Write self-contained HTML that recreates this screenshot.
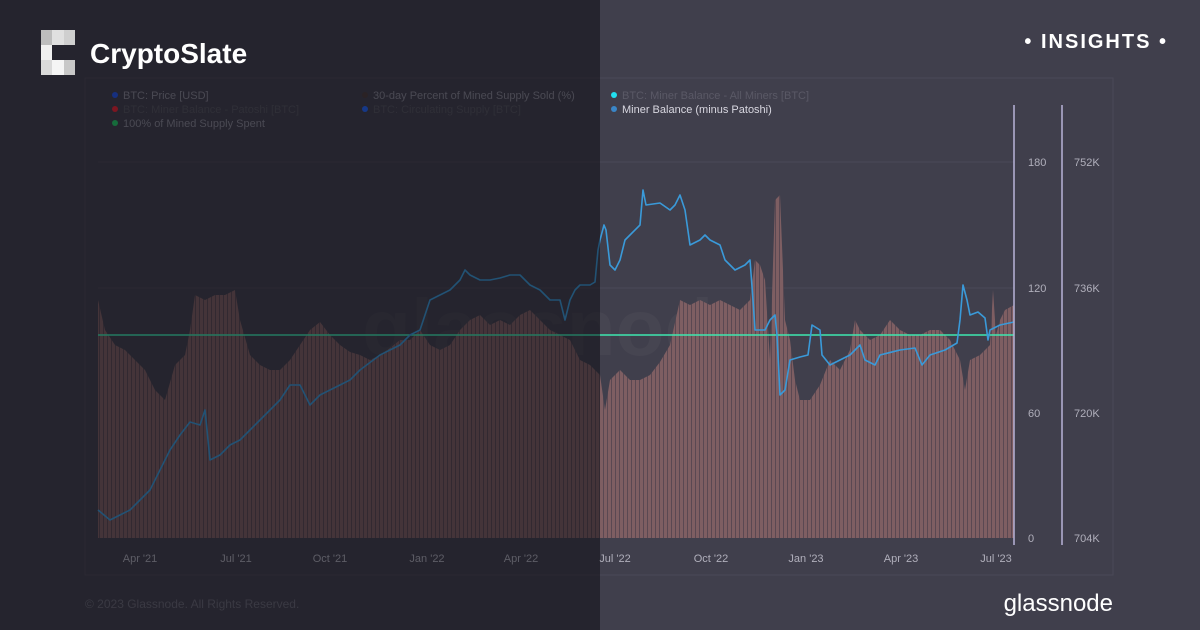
<!DOCTYPE html>
<html><head><meta charset="utf-8"><style>
html,body{margin:0;padding:0;background:#403f4c;width:1200px;height:630px;overflow:hidden;font-family:"Liberation Sans",sans-serif}
</style></head><body>
<svg width="1200" height="630" viewBox="0 0 1200 630" xmlns="http://www.w3.org/2000/svg" style="position:absolute;left:0;top:0">
<defs>
<pattern id="bars" width="4" height="10" patternUnits="userSpaceOnUse">
<rect width="4" height="10" fill="#7e5e62"/><rect x="3" width="1" height="10" fill="#5a4852"/>
</pattern>
</defs>
<rect width="1200" height="630" fill="#403f4c"/>
<rect x="85" y="78" width="1028" height="497" fill="none" stroke="#4a4957" stroke-width="1"/>
<g stroke="#4a4957" stroke-width="1">
<line x1="98" y1="162" x2="1014" y2="162"/><line x1="98" y1="288" x2="1014" y2="288"/><line x1="98" y1="413" x2="1014" y2="413"/>
</g>
<text x="560" y="355" font-size="80" fill="#464551" text-anchor="middle" font-weight="bold">glassnode</text>
<polygon fill="url(#bars)" points="98,538 98,300 105,330 115,345 125,350 135,360 145,370 155,390 165,400 175,365 185,355 190,330 195,295 205,300 215,295 225,295 235,290 240,320 250,355 260,365 270,370 280,370 290,360 300,345 310,330 320,322 330,335 340,345 350,352 360,355 370,360 380,355 390,348 400,340 410,340 420,330 430,345 440,350 450,345 460,330 470,320 480,315 490,325 500,320 510,325 520,315 530,310 540,320 550,330 560,335 570,340 580,360 590,365 600,375 605,410 610,380 620,370 630,380 640,380 650,375 660,362 670,345 680,300 690,305 700,300 710,305 720,300 730,305 740,310 750,300 755,260 760,265 765,280 770,360 775,200 780,195 785,320 790,340 795,380 800,400 810,400 820,385 830,360 840,370 850,350 855,320 860,330 870,340 880,335 890,320 900,330 910,335 920,335 930,330 940,330 950,340 960,360 965,390 970,360 980,355 990,345 993,290 996,335 1000,320 1005,310 1014,305 1014,538"/>
<line x1="98" y1="335" x2="1014" y2="335" stroke="#3ee8b0" stroke-width="1.5"/>
<polyline fill="none" stroke="#3a9ad9" stroke-width="1.6" stroke-linejoin="round" points="98,510 110,520 120,515 130,510 140,500 150,490 160,470 170,450 180,435 190,422 200,425 205,410 210,460 220,455 230,445 240,440 250,430 260,420 270,410 280,400 290,385 300,385 310,405 320,395 330,390 340,385 350,380 360,370 380,355 390,350 400,345 410,335 420,330 430,300 440,295 450,290 460,280 465,270 470,275 480,280 490,280 500,278 510,275 520,275 530,285 540,290 550,300 560,300 565,320 570,300 575,290 580,285 590,285 595,282 598,250 600,240 604,225 606,230 610,265 615,270 620,260 625,240 630,235 640,225 643,190 646,205 660,203 670,210 675,205 680,195 685,210 690,245 700,240 705,235 710,240 720,245 725,260 730,265 735,270 745,265 750,260 753,300 755,330 765,330 770,320 775,315 777,335 780,395 785,390 790,360 800,357 808,355 812,325 820,330 822,355 830,365 840,360 850,355 860,345 865,360 875,365 880,355 900,350 915,348 922,365 930,355 945,350 957,343 960,320 963,285 967,300 970,315 978,312 985,318 988,340 990,330 1000,325 1014,322"/>
<line x1="1014" y1="105" x2="1014" y2="545" stroke="#b8b4d8" stroke-width="1.5"/>
<line x1="1062" y1="105" x2="1062" y2="545" stroke="#b8b4d8" stroke-width="1.5"/>
<g font-size="11" fill="#b0afbb">
<text x="1028" y="166">180</text><text x="1028" y="292">120</text><text x="1028" y="417">60</text><text x="1028" y="542">0</text>
<text x="1074" y="166">752K</text><text x="1074" y="292">736K</text><text x="1074" y="417">720K</text><text x="1074" y="542">704K</text>
</g>
<g font-size="11" fill="#b0afbb" text-anchor="middle">
<text x="140" y="562">Apr '21</text><text x="236" y="562">Jul '21</text><text x="330" y="562">Oct '21</text><text x="427" y="562">Jan '22</text><text x="521" y="562">Apr '22</text><text x="615" y="562">Jul '22</text><text x="711" y="562">Oct '22</text><text x="806" y="562">Jan '23</text><text x="901" y="562">Apr '23</text><text x="996" y="562">Jul '23</text>
</g>
<g font-size="11">
<circle cx="115" cy="95" r="3" fill="#2255ee"/><text x="123" y="99" fill="#8a8996">BTC: Price [USD]</text>
<circle cx="115" cy="109" r="3" fill="#ee2233"/><text x="123" y="113" fill="#55545f">BTC: Miner Balance - Patoshi [BTC]</text>
<circle cx="115" cy="123" r="3" fill="#22cc66"/><text x="123" y="127" fill="#8a8996">100% of Mined Supply Spent</text>
<circle cx="365" cy="95" r="3" fill="#4a3a3a"/><text x="373" y="99" fill="#8a8996">30-day Percent of Mined Supply Sold (%)</text>
<circle cx="365" cy="109" r="3" fill="#2266ff"/><text x="373" y="113" fill="#55545f">BTC: Circulating Supply [BTC]</text>
<circle cx="614" cy="95" r="3" fill="#22e0f0"/><text x="622" y="99" fill="#5a5966">BTC: Miner Balance - All Miners [BTC]</text>
<circle cx="614" cy="109" r="3" fill="#3a86c8"/><text x="622" y="113" fill="#d8d7e0">Miner Balance (minus Patoshi)</text>
</g>
<text x="85" y="608" font-size="12" fill="#6a6976">© 2023 Glassnode. All Rights Reserved.</text>
<text x="1113" y="611" font-size="24" fill="#ffffff" text-anchor="end">glassnode</text>
<rect x="0" y="0" width="600" height="630" fill="#0a0a10" fill-opacity="0.5"/>
<g>
<rect x="41" y="30" width="11" height="15" fill="#bdbdbd"/><rect x="52" y="30" width="12" height="15" fill="#e0e0e0"/><rect x="64" y="30" width="11" height="15" fill="#cfcfcf"/>
<rect x="41" y="45" width="11" height="15" fill="#f0f0f0"/>
<rect x="41" y="60" width="11" height="15" fill="#dadada"/><rect x="52" y="60" width="12" height="15" fill="#f5f5f5"/><rect x="64" y="60" width="11" height="15" fill="#c8c8c8"/>
</g>
<text x="90" y="63" font-size="28" font-weight="bold" fill="#ffffff">CryptoSlate</text>
<text x="1168" y="48" font-size="20" font-weight="bold" fill="#ffffff" text-anchor="end" letter-spacing="2">• INSIGHTS •</text>
</svg>
</body></html>
